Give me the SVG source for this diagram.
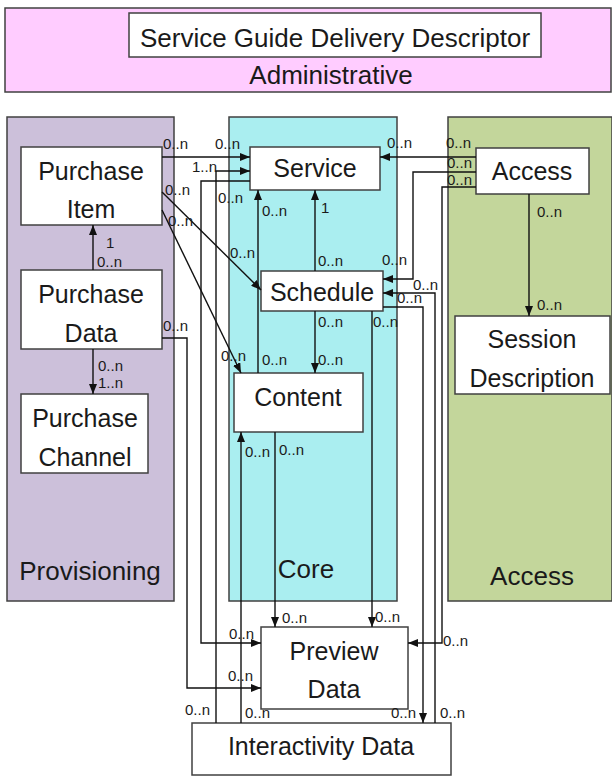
<svg xmlns="http://www.w3.org/2000/svg" width="612" height="776" viewBox="0 0 612 776">
<defs>
<marker id="arr" markerWidth="10" markerHeight="8" refX="10" refY="4" orient="auto" markerUnits="userSpaceOnUse">
<path d="M0,0 L10,4 L0,8 z" fill="#111"/>
</marker>
<style>
.region{stroke:#404040;stroke-width:1.5}
.node{fill:#fff;stroke:#404040;stroke-width:1.5}
.t{font-family:"Liberation Sans",Arial,sans-serif;font-size:25px;fill:#1a1a1a;text-anchor:middle}
.rt{font-family:"Liberation Sans",Arial,sans-serif;font-size:26px;fill:#1a1a1a;text-anchor:middle}
.l{font-family:"Liberation Sans",Arial,sans-serif;font-size:15px;fill:#1a1a1a}
.c{fill:none;stroke:#111;stroke-width:1.4}
.a{marker-end:url(#arr)}
</style>
</defs>
<rect width="612" height="776" fill="#fff"/>
<g id="administrative">
<rect class="region" x="5" y="8" width="606" height="84" fill="#ffccff"/>
<text class="rt" x="331" y="84">Administrative</text>
</g>
<g id="provisioning">
<rect class="region" x="7" y="117" width="167" height="484" fill="#ccc0da"/>
<text class="rt" x="90" y="580">Provisioning</text>
</g>
<g id="core">
<rect class="region" x="229" y="117" width="168" height="484" fill="#aaeef0"/>
<text class="rt" x="306" y="578">Core</text>
</g>
<g id="access-region">
<rect class="region" x="448" y="117" width="164" height="484" fill="#c3d69b"/>
<text class="rt" x="532" y="585">Access</text>
</g>
<g id="sgdd">
<rect class="node" x="129" y="13" width="412" height="44"/>
<text class="rt" x="335" y="47">Service Guide Delivery Descriptor</text>
</g>
<g id="purchase-item">
<rect class="node" x="21" y="147" width="141" height="78"/>
<text class="t" x="91" y="180">Purchase</text>
<text class="t" x="91" y="218">Item</text>
</g>
<g id="purchase-data">
<rect class="node" x="21" y="270" width="141" height="79"/>
<text class="t" x="91" y="303">Purchase</text>
<text class="t" x="91" y="342">Data</text>
</g>
<g id="purchase-channel">
<rect class="node" x="21" y="394" width="127" height="79"/>
<text class="t" x="85" y="427">Purchase</text>
<text class="t" x="85" y="466">Channel</text>
</g>
<g id="service">
<rect class="node" x="250" y="147" width="130" height="43"/>
<text class="t" x="315" y="177">Service</text>
</g>
<g id="schedule">
<rect class="node" x="261" y="271" width="122" height="40"/>
<text class="t" x="322" y="301">Schedule</text>
</g>
<g id="content">
<rect class="node" x="234" y="373" width="129" height="59"/>
<text class="t" x="298" y="406">Content</text>
</g>
<g id="access">
<rect class="node" x="476" y="148" width="113" height="46"/>
<text class="t" x="532" y="180">Access</text>
</g>
<g id="session-description">
<rect class="node" x="455" y="316" width="155" height="78"/>
<text class="t" x="532" y="348">Session</text>
<text class="t" x="532" y="387">Description</text>
</g>
<g id="preview-data">
<rect class="node" x="261" y="627" width="147" height="82"/>
<text class="t" x="334" y="660">Preview</text>
<text class="t" x="334" y="698">Data</text>
</g>
<g id="interactivity-data">
<rect class="node" x="192" y="723" width="259" height="52"/>
<text class="t" x="321" y="755">Interactivity Data</text>
</g>
<g id="connectors">
<!-- Purchase Data -> Purchase Item -->
<path class="c a" d="M93,270 V225"/>
<!-- Purchase Data -> Purchase Channel -->
<path class="c a" d="M93,349 V394"/>
<!-- Purchase Item -> Service -->
<path class="c a" d="M162,157 H250"/>
<!-- Purchase Item -> Schedule -->
<path class="c a" d="M162,192 L261,290"/>
<!-- Purchase Item -> Content -->
<path class="c a" d="M162,210 L241,373"/>
<!-- Interactivity -> Service -->
<path class="c a" d="M216,723 V171 H250"/>
<!-- Service -> Preview -->
<path class="c a" d="M250,181 H201 V643 H261"/>
<!-- Purchase Data -> Preview -->
<path class="c a" d="M162,338 H187 V688 H261"/>
<!-- Interactivity -> Content -->
<path class="c a" d="M241,723 V432"/>
<!-- Content -> Service -->
<path class="c a" d="M258,373 V190"/>
<!-- Schedule -> Service -->
<path class="c a" d="M315,271 V190"/>
<!-- Schedule -> Content -->
<path class="c a" d="M315,311 V373"/>
<!-- Content -> Preview -->
<path class="c a" d="M275,432 V627"/>
<!-- Schedule -> Preview -->
<path class="c a" d="M372,311 V627"/>
<!-- Access -> Service -->
<path class="c a" d="M476,157 H380"/>
<!-- Access -> Schedule -->
<path class="c a" d="M476,172 H413 V279 H383"/>
<!-- Access -> Preview -->
<path class="c a" d="M476,187 H442 V643 H408"/>
<!-- Interactivity -> Schedule -->
<path class="c a" d="M435,723 V293 H383"/>
<!-- Schedule -> Interactivity -->
<path class="c a" d="M383,307 H423 V723"/>
<!-- Access -> Session Description -->
<path class="c a" d="M529,194 V316"/>
</g>
<g id="labels">
<text class="l" x="106" y="248">1</text>
<text class="l" x="97" y="267">0..n</text>
<text class="l" x="98" y="371">0..n</text>
<text class="l" x="98" y="388">1..n</text>
<text class="l" x="163" y="149">0..n</text>
<text class="l" x="215" y="149">0..n</text>
<text class="l" x="192" y="172">1..n</text>
<text class="l" x="165" y="195">0..n</text>
<text class="l" x="218" y="203">0..n</text>
<text class="l" x="262" y="216">0..n</text>
<text class="l" x="168" y="226">0..n</text>
<text class="l" x="387" y="148">0..n</text>
<text class="l" x="446" y="148">0..n</text>
<text class="l" x="321" y="213">1</text>
<text class="l" x="447" y="168">0..n</text>
<text class="l" x="447" y="185">0..n</text>
<text class="l" x="537" y="217">0..n</text>
<text class="l" x="537" y="310">0..n</text>
<text class="l" x="230" y="258">0..n</text>
<text class="l" x="163" y="331">0..n</text>
<text class="l" x="221" y="361">0..n</text>
<text class="l" x="262" y="365">0..n</text>
<text class="l" x="318" y="266">0..n</text>
<text class="l" x="382" y="265">0..n</text>
<text class="l" x="413" y="290">0..n</text>
<text class="l" x="397" y="303">0..n</text>
<text class="l" x="318" y="327">0..n</text>
<text class="l" x="373" y="327">0..n</text>
<text class="l" x="318" y="365">0..n</text>
<text class="l" x="245" y="457">0..n</text>
<text class="l" x="279" y="455">0..n</text>
<text class="l" x="282" y="623">0..n</text>
<text class="l" x="229" y="639">0..n</text>
<text class="l" x="228" y="681">0..n</text>
<text class="l" x="185" y="715">0..n</text>
<text class="l" x="245" y="718">0..n</text>
<text class="l" x="375" y="622">0..n</text>
<text class="l" x="443" y="646">0..n</text>
<text class="l" x="391" y="718">0..n</text>
<text class="l" x="440" y="718">0..n</text>
</g>
</svg>
